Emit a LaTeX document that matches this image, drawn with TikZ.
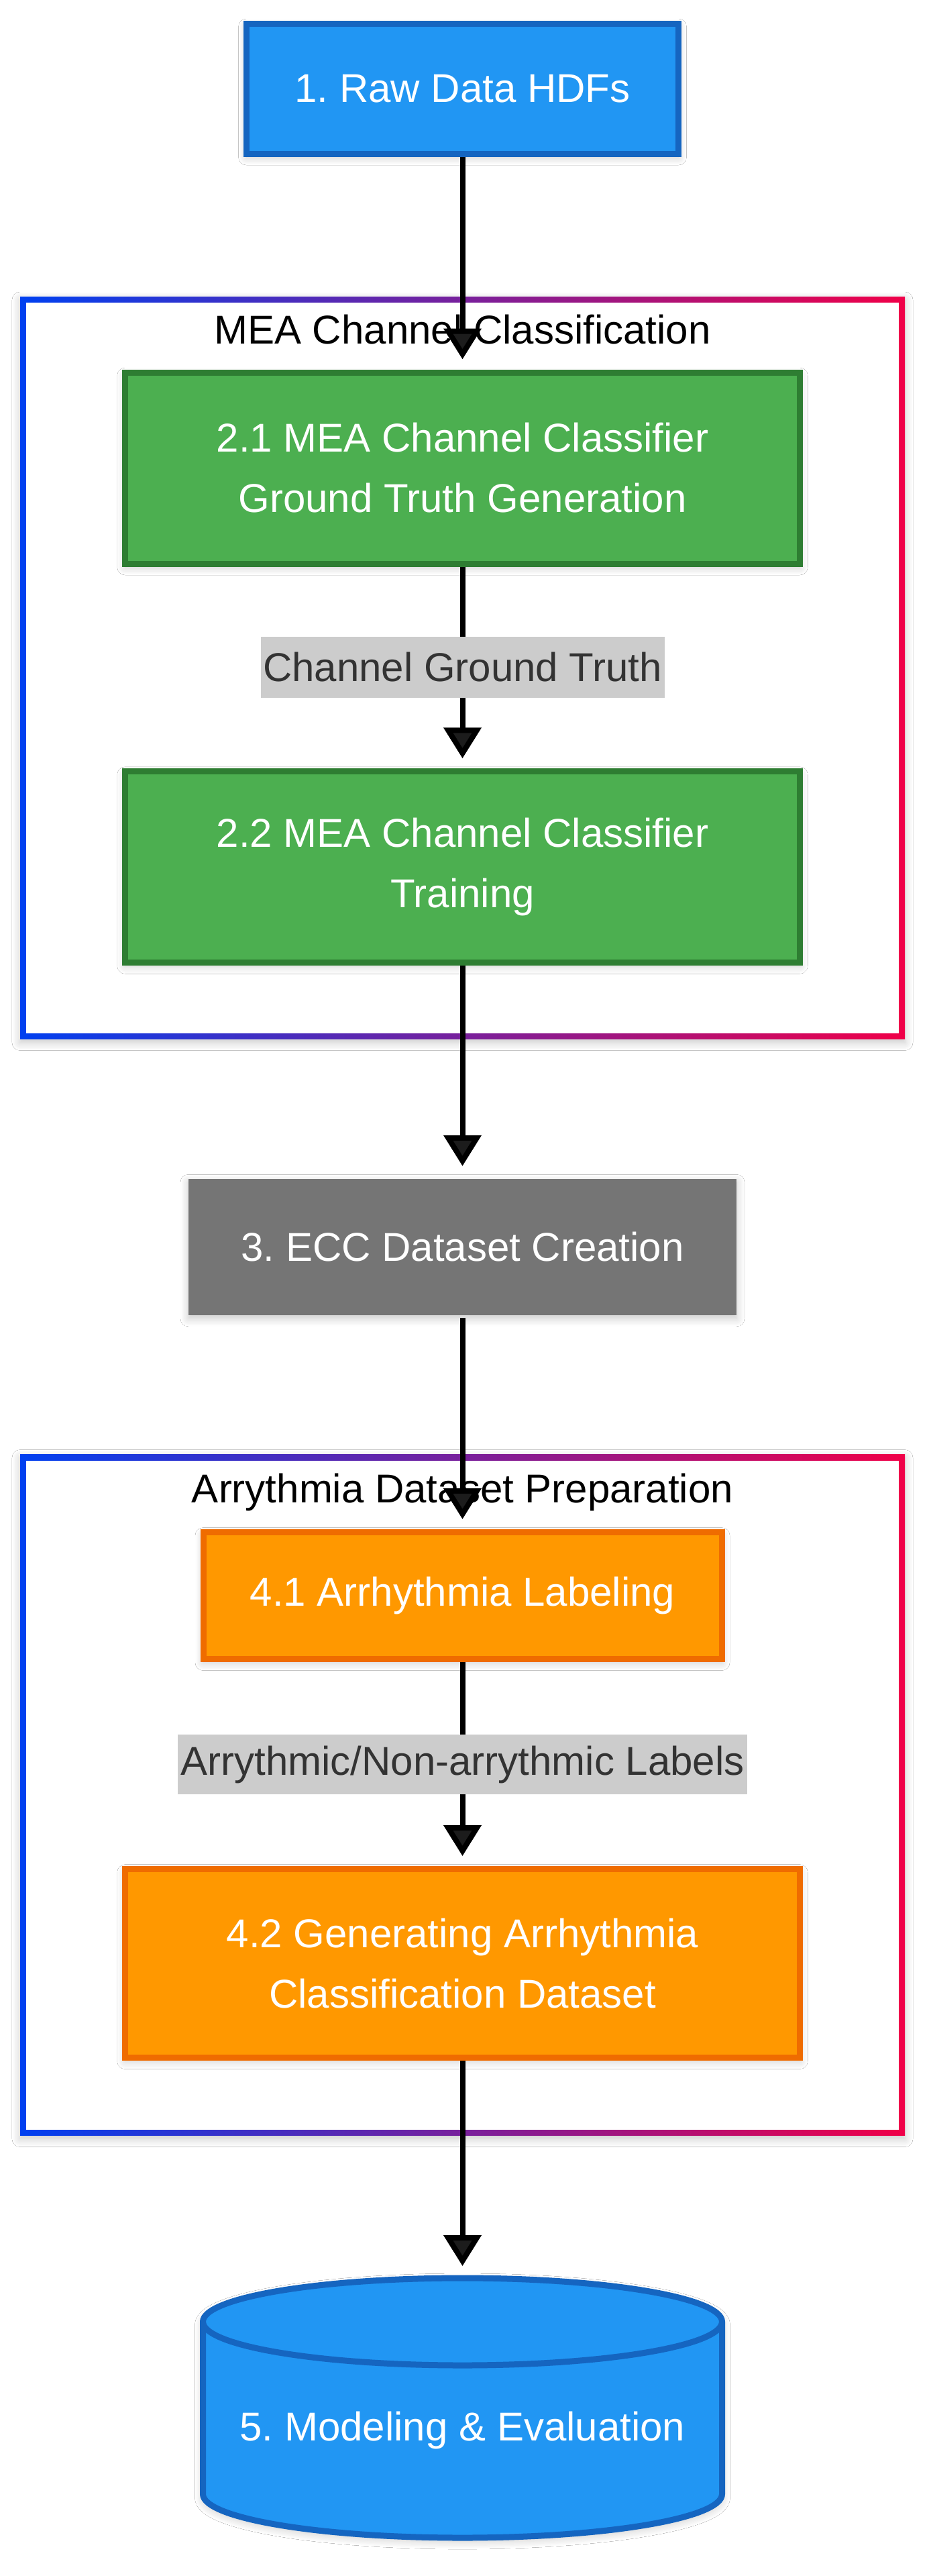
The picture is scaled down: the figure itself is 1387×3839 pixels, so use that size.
\documentclass[tikz,border=0pt]{standalone}
\usepackage{fontspec}
\setmainfont{Liberation Sans}
\usetikzlibrary{arrows.meta,shadows.blur}
\definecolor{bluefill}{HTML}{2196F3}
\definecolor{bluestroke}{HTML}{1565C0}
\definecolor{greenfill}{HTML}{4CAF50}
\definecolor{greenstroke}{HTML}{2E7D32}
\definecolor{grayfill}{HTML}{757575}
\definecolor{orangefill}{HTML}{FF9800}
\definecolor{orangestroke}{HTML}{EF6C00}
\definecolor{lblfill}{HTML}{CCCCCC}
\definecolor{lbltext}{HTML}{333333}
\definecolor{clblue}{HTML}{0040F0}
\definecolor{clred}{HTML}{F00048}
\frenchspacing
\begin{document}
\begin{tikzpicture}[x=0.5pt,y=-0.5pt,
  softshadow/.style={blur shadow={shadow xshift=0pt, shadow yshift=-2.5pt, shadow blur radius=6pt, shadow blur steps=10, shadow opacity=22}},
  txt/.style={font=\frenchspacing\fontsize{30pt}{45pt}\selectfont, align=center, inner sep=0pt},
  box/.style={txt, text=white, rectangle, line width=4.5pt, softshadow},
  bluebox/.style={box, fill=bluefill, draw=bluestroke},
  greenbox/.style={box, fill=greenfill, draw=greenstroke},
  graybox/.style={box, fill=grayfill},
  orangebox/.style={box, fill=orangefill, draw=orangestroke},
  edgelbl/.style={txt, text=lbltext, fill=lblfill},
  cltitle/.style={txt, text=black, anchor=base},
  arr/.style={line width=4pt, -{Triangle[length=23pt,width=27.5pt]}, shorten >=7.5pt},
]
% canvas
\fill[white] (0,0) rectangle (1387,3839);
\useasboundingbox (0,0) rectangle (1387,3839);

% cluster 1
\path[fill=white, softshadow] (30,442) rectangle (1349,1548.5);
\shade[left color=clblue, right color=clred] (30,442) rectangle (1349,1548.5);
\fill[white] (39,451) rectangle (1340,1539.5);
\node[cltitle] (c1title) at (689.5,512) {MEA Channel Classification};

% cluster 2
\path[fill=white, softshadow] (30,2167.5) rectangle (1349,3182.5);
\shade[left color=clblue, right color=clred] (30,2167.5) rectangle (1349,3182.5);
\fill[white] (39,2176.5) rectangle (1340,3173.5);
\node[cltitle] (c2title) at (689.5,2239) {Arrythmia Dataset Preparation};

% nodes
\node[bluebox, minimum width=322pt, minimum height=97pt] (n1) at (689.5,132) {1. Raw Data HDFs};
\node[greenbox, minimum width=502.75pt, minimum height=142.5pt] (n21) at (689.5,697.5) {2.1 MEA Channel Classifier\\Ground Truth Generation};
\node[greenbox, minimum width=502.75pt, minimum height=142.25pt] (n22) at (689.5,1292) {2.2 MEA Channel Classifier\\Training};
\node[graybox, minimum width=408.5pt, minimum height=101.25pt] (n3) at (689.5,1858.5) {3. ECC Dataset Creation};
\node[orangebox, minimum width=386.5pt, minimum height=94.5pt] (n41) at (689.5,2378) {4.1 Arrhythmia Labeling};
\node[orangebox, minimum width=502.75pt, minimum height=140.5pt] (n42) at (689.5,2926) {4.2 Generating Arrhythmia\\Classification Dataset};

% cylinder
\path[fill=bluefill, draw=bluestroke, line width=4.5pt, softshadow]
  (302.5,3460) -- (302.5,3717)
  arc[start angle=180, end angle=360, x radius=193.5pt, y radius=32.5pt]
  -- (1076.5,3460)
  arc[start angle=0, end angle=180, x radius=193.5pt, y radius=32.5pt] -- cycle;
\draw[bluestroke, line width=4.5pt] (302.5,3460)
  arc[start angle=180, end angle=360, x radius=193.5pt, y radius=32.5pt];
\node[minimum width=391.5pt, minimum height=196.5pt, outer sep=0pt, inner sep=0pt] (cyl) at (689.5,3588.5) {};
\node[txt, text=white] (cyltxt) at (689.5,3622) {5. Modeling \& Evaluation};

% edges
\draw[arr] (n1.south) -- (n21.north);
\draw[arr] (n21.south) -- (n22.north);
\draw[arr] (n22.south) -- (n3.north);
\draw[arr] (n3.south) -- (n41.north);
\draw[arr] (n41.south) -- (n42.north);
\draw[arr] (n42.south) -- (cyl.north);

% edge labels
\node[edgelbl, minimum width=301pt, minimum height=45.5pt] (l1) at (689.5,994.5) {Channel Ground Truth};
\node[edgelbl, minimum width=424.5pt, minimum height=44.5pt] (l2) at (689.5,2629.5) {Arrythmic/Non-arrythmic Labels};
\end{tikzpicture}
\end{document}
